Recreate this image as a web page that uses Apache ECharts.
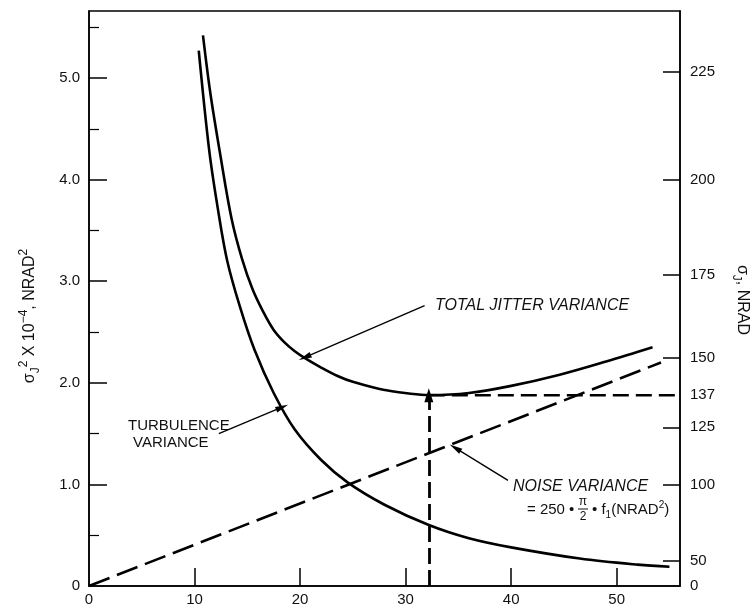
<!DOCTYPE html>
<html>
<head>
<meta charset="utf-8">
<script src="https://cdn.jsdelivr.net/npm/echarts@6/dist/echarts.min.js"></script>
<style>
  html, body { margin: 0; padding: 0; background: #fff; }
  #chart { width: 753px; height: 608px; }
</style>
</head>
<body>
<div id="chart"></div>
<script>
// ---- data ----
const xTickLabels = [0, 10, 20, 30, 40, 50];
const leftTickValues = [0, 1, 2, 3, 4, 5];
const leftMinorTicks = [0.5, 1.5, 2.5, 3.5, 4.5, 5.5];
const rightTickLabels = [0, 50, 100, 125, 137, 150, 175, 200, 225]; // sigma_J, NRAD

const turbulenceX = [10.4, 11.4, 12.2, 13.1, 14.3, 15.7, 17.5, 19.5, 22, 24.5, 28, 32.2, 36, 40, 46.5, 52, 55];
const turbulenceY = [5.27, 4.28, 3.72, 3.2, 2.75, 2.32, 1.9, 1.54, 1.24, 1.02, 0.8, 0.6, 0.47, 0.38, 0.27, 0.21, 0.19];

const totalX = [10.8, 11.5, 12.4, 13.5, 14.5, 15.5, 16.5, 17.5, 18.5, 19.5, 20.5, 22, 23.5, 25, 28, 32.3, 36, 40, 44.6, 49, 53.4];
const totalY = [5.42, 4.85, 4.27, 3.62, 3.22, 2.92, 2.70, 2.52, 2.40, 2.31, 2.24, 2.15, 2.07, 2.01, 1.93, 1.88, 1.9, 1.97, 2.08, 2.21, 2.35];

const noiseX = [0, 54.2];
const noiseY = [0, 2.2];

const optimumX = 32.2;
const optimumY = 1.877;    // 137^2 x 1e-4
const xMax = 56;
const yMax = 5.66;

// ---- build ----
const zip = (xs, ys) => xs.map((x, i) => [x, ys[i]]);
const FONT = '"Liberation Sans", Arial, Helvetica, sans-serif';
const black = '#111';

const chart = echarts.init(document.getElementById('chart'), null, { renderer: 'canvas' });

const arrowLine = (from, to) => [
  { coord: from, symbol: 'none' },
  { coord: to, symbol: 'triangle', symbolSize: [6, 13] }
];

const option = {
  animation: false,
  backgroundColor: '#fff',
  grid: { left: 89, right: 73, top: 11, bottom: 22, show: true, borderColor: '#000', borderWidth: 1.5 },
  xAxis: {
    type: 'value', min: 0, max: xMax,
    axisLine: { show: true, lineStyle: { color: '#000', width: 1.5 } },
    axisTick: { show: true, inside: true, length: 18, customValues: xTickLabels.filter(v => v > 0), lineStyle: { color: '#000', width: 1.5 } },
    axisLabel: { customValues: xTickLabels, margin: 6, fontSize: 15, color: black, fontFamily: FONT },
    splitLine: { show: false }
  },
  yAxis: [
    {
      type: 'value', min: 0, max: yMax, position: 'left',
      axisLine: { show: true, onZero: false, lineStyle: { color: '#000', width: 1.5 } },
      axisTick: { show: true, inside: true, length: 18, customValues: leftTickValues.filter(v => v > 0), lineStyle: { color: '#000', width: 1.5 } },
      axisLabel: { customValues: leftTickValues, margin: 9, fontSize: 15, color: black, fontFamily: FONT,
        formatter: v => v === 0 ? '0' : v.toFixed(1) },
      splitLine: { show: false }
    },
    {
      type: 'value', min: 0, max: yMax, position: 'left',
      axisLine: { show: false },
      axisTick: { show: true, inside: true, length: 10, customValues: leftMinorTicks, lineStyle: { color: '#000', width: 1.2 } },
      axisLabel: { show: false },
      splitLine: { show: false }
    },
    {
      type: 'value', min: 0, max: yMax, position: 'right',
      axisLine: { show: true, onZero: false, lineStyle: { color: '#000', width: 1.5 } },
      axisTick: { show: true, inside: true, length: 17,
        customValues: rightTickLabels.filter(v => v > 0 && v !== 137).map(v => v * v / 1e4),
        lineStyle: { color: '#000', width: 1.5 } },
      axisLabel: { customValues: rightTickLabels.map(v => v * v / 1e4), margin: 10, fontSize: 15, color: black, fontFamily: FONT,
        formatter: v => String(Math.round(Math.sqrt(v * 1e4))) },
      splitLine: { show: false }
    }
  ],
  series: [
    {
      name: 'Turbulence variance', type: 'line', data: zip(turbulenceX, turbulenceY),
      smooth: 0.35, showSymbol: false,
      lineStyle: { color: '#000', width: 2.6 }
    },
    {
      name: 'Total jitter variance', type: 'line', data: zip(totalX, totalY),
      smooth: 0.35, showSymbol: false,
      lineStyle: { color: '#000', width: 2.6 },
      markLine: {
        silent: true, label: { show: false },
        lineStyle: { color: '#000', width: 1.3, type: 'solid' },
        data: [
          arrowLine([31.8, 2.76], [20.45, 2.25]),
          arrowLine([12.3, 1.5], [18.3, 1.76]),
          arrowLine([39.7, 1.04], [34.7, 1.36])
        ]
      }
    },
    {
      name: 'Noise variance', type: 'line', data: zip(noiseX, noiseY),
      showSymbol: false,
      lineStyle: { color: '#000', width: 2.6, type: [22, 8] }
    },
    {
      name: 'Minimum level', type: 'line', data: [[optimumX, optimumY], [xMax, optimumY]],
      showSymbol: false,
      lineStyle: { color: '#000', width: 2.6, type: [16, 7] },
      markLine: {
        silent: true, label: { show: false },
        lineStyle: { color: '#000', width: 2.8, type: [16, 6] },
        data: [[
          { coord: [optimumX, 0], symbol: 'none' },
          { coord: [optimumX, optimumY], symbol: 'triangle', symbolSize: [9, 14] }
        ]]
      }
    }
  ],
  graphic: [
    { type: 'text', x: 30, y: 316, rotation: Math.PI / 2,
      style: { text: '{t|σ}{sub|J}{sup|2}{t| X 10}{sup|−4}{t|, NRAD}{sup|2}', align: 'center', verticalAlign: 'middle',
        fill: black,
        rich: { t: { fontSize: 16, lineHeight: 24, fontFamily: FONT, fill: black, verticalAlign: 'middle' },
                sub: { fontSize: 12, lineHeight: 24, fontFamily: FONT, fill: black, verticalAlign: 'bottom' },
                sup: { fontSize: 12, lineHeight: 24, fontFamily: FONT, fill: black, verticalAlign: 'top' } } } },
    { type: 'text', x: 742, y: 300, rotation: -Math.PI / 2,
      style: { text: '{t|σ}{sub|J}{t|, NRAD}', align: 'center', verticalAlign: 'middle', fill: black,
        rich: { t: { fontSize: 16, lineHeight: 24, fontFamily: FONT, fill: black, verticalAlign: 'middle' },
                sub: { fontSize: 12, lineHeight: 24, fontFamily: FONT, fill: black, verticalAlign: 'bottom' } } } },
    { type: 'text', x: 435, y: 306,
      style: { text: 'TOTAL JITTER VARIANCE', fill: black, font: 'italic 16px ' + FONT, verticalAlign: 'middle' } },
    { type: 'text', x: 128, y: 426,
      style: { text: 'TURBULENCE', fill: black, font: '15px ' + FONT, verticalAlign: 'middle' } },
    { type: 'text', x: 133, y: 443,
      style: { text: 'VARIANCE', fill: black, font: '15px ' + FONT, verticalAlign: 'middle' } },
    { type: 'text', x: 513, y: 487,
      style: { text: 'NOISE VARIANCE', fill: black, font: 'italic 16px ' + FONT, verticalAlign: 'middle' } },
    { type: 'text', x: 527, y: 510,
      style: { text: '= 250 •', fill: black, font: '15px ' + FONT, verticalAlign: 'middle' } },
    { type: 'text', x: 583, y: 502,
      style: { text: 'π', fill: black, font: '12px ' + FONT, align: 'center', verticalAlign: 'middle' } },
    { type: 'line', shape: { x1: 578, y1: 509, x2: 588, y2: 509 }, style: { stroke: black, lineWidth: 1 } },
    { type: 'text', x: 583, y: 517,
      style: { text: '2', fill: black, font: '12px ' + FONT, align: 'center', verticalAlign: 'middle' } },
    { type: 'text', x: 592, y: 510,
      style: { text: '{t|• f}{sub|1}{t|(NRAD}{sup|2}{t|)}', verticalAlign: 'middle', fill: black,
        rich: { t: { fontSize: 15, lineHeight: 20, fontFamily: FONT, fill: black, verticalAlign: 'middle' },
                sub: { fontSize: 10, lineHeight: 20, fontFamily: FONT, fill: black, verticalAlign: 'bottom' },
                sup: { fontSize: 10, lineHeight: 20, fontFamily: FONT, fill: black, verticalAlign: 'top' } } } }
  ]
};

chart.setOption(option);
</script>
</body>
</html>
